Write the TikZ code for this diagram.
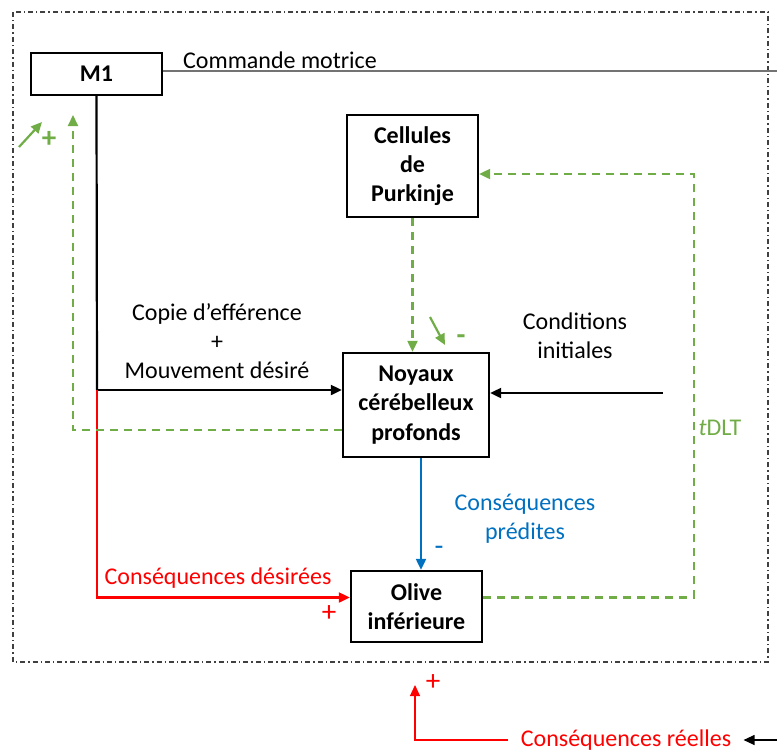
\documentclass[tikz,border=0pt]{standalone}
\usepackage{fontspec}
\setmainfont{Carlito}
\usetikzlibrary{arrows.meta}

\definecolor{vert}{RGB}{112,173,71}
\definecolor{bleu}{RGB}{0,112,192}
\definecolor{rouge}{RGB}{255,0,0}
\newcommand{\taille}{\fontsize{12}{14.6}\selectfont}
\newcommand{\signe}{\fontsize{14.5}{16}\selectfont}

\tikzset{
  bloc/.style={draw, line width=1.2pt, align=center, inner sep=0pt,
    minimum width=65.5pt, font=\taille\bfseries},
  fleche/.style={-{Triangle[length=5.5pt,width=5pt]}},
  noir/.style={line width=1.1pt},
  rougetrait/.style={line width=1.1pt, rouge},
  bleutrait/.style={line width=1.1pt, bleu},
  vertpointille/.style={line width=1.1pt, vert, dash pattern=on 4pt off 3pt},
  cadre/.style={line width=0.8pt, black!75,
    dash pattern=on 2.5pt off 1.5pt on 0.7pt off 1.5pt},
}

\begin{document}
\begin{tikzpicture}[x=0.5pt, y=-0.5pt, font=\taille]
\useasboundingbox (0,0) rectangle (777,751);

% cadre
\draw[cadre] (13,12) rectangle (768,662);

% blocs
\node[bloc, minimum height=21pt] (m1) at (96.5,74) {M1};
\node[bloc, minimum height=51pt] (purk) at (412.5,166) {Cellules\\de\\Purkinje};
\node[bloc, minimum height=52pt, minimum width=73pt] (noyaux) at (416,405) {Noyaux\\cérébelleux\\profonds};
\node[bloc, minimum height=35.5pt] (olive) at (416.5,606.5) {Olive\\inférieure};

% points
\coordinate (split) at (97,390);
\coordinate (cmdend) at (777,71);
\coordinate (ltpcoin) at (694,174);
\coordinate (retour) at (73,115);
\coordinate (condin) at (663,393);
\coordinate (reup) at (415,685);
\coordinate (inend) at (777,740);

% textes
\node (commande) at (280,60) {Commande motrice};
\node[align=center] (copie) at (217,341) {Copie d’efférence\\+\\Mouvement désiré};
\node[align=center] (cond) at (575,336) {Conditions\\initiales};
\node[vert] (tdlt) at (720,428) {\textit{t}DLT};
\node[bleu, align=center] (predites) at (525,519) {Conséquences\\prédites};
\node[rouge] (desirees) at (218,578) {Conséquences désirées};
\node[rouge, inner sep=6pt] (reelles) at (626,740) {Conséquences réelles};

% signes
\node[vert, font=\signe\bfseries] (plusm1) at (49,139) {+};
\node[vert, font=\signe\bfseries] (moinsn) at (461,340) {-};
\node[bleu, font=\signe] (moinso) at (439,551) {-};
\node[rouge, font=\signe] (pluso) at (329,614) {+};
\node[rouge, font=\signe] (plusr) at (433,683) {+};

% commande motrice
\draw[line width=0.7pt, black!55] (m1.east |- cmdend) -- (cmdend);

% copie d'efference
\draw[noir] (m1.south) -- (split);
\draw[noir, fleche] (split) -- (split -| noyaux.west);
\draw[noir, fleche] (condin) -- (condin -| noyaux.east);

% consequences
\draw[rougetrait, fleche] (split) |- ([yshift=4.5pt]olive.west);
\draw[bleutrait, fleche] ([xshift=2.5pt]noyaux.south) -- ([xshift=2.5pt]noyaux.south |- olive.north);
\draw[rouge, line width=0.6pt, fleche] (reelles.west) -| (reup);
\draw[line width=0.6pt, fleche] (inend) -- (reelles.east);

% boucles vertes
\draw[vertpointille, fleche] (purk.south) -- (purk.south |- noyaux.north);
\draw[vertpointille, fleche] ([yshift=4.5pt]olive.east) -| (ltpcoin) -- ([yshift=-4pt]purk.east);
\draw[vertpointille, fleche] ([yshift=-12.5pt]noyaux.west) -| (retour);

% petites fleches
\draw[vert, line width=1.1pt, fleche] (19,147) -- (42,122);
\draw[vert, line width=1.1pt, fleche] (430,317) -- (445,345);

\end{tikzpicture}
\end{document}
